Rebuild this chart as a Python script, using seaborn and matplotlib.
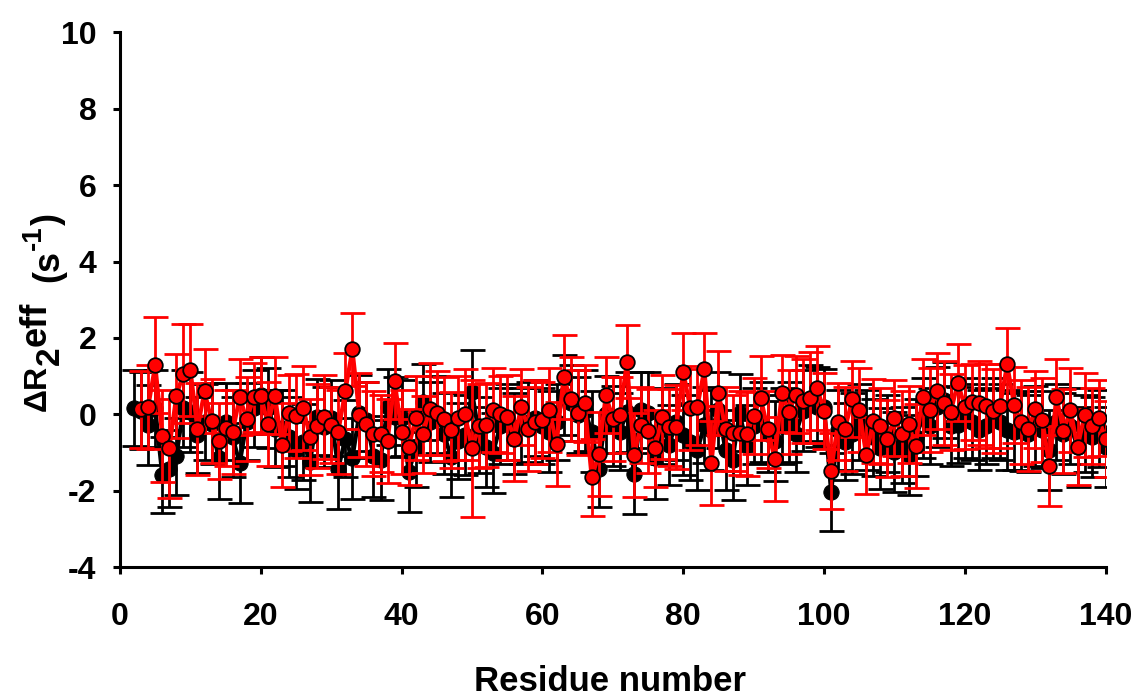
import matplotlib
matplotlib.use("Agg")
import matplotlib.pyplot as plt
import seaborn as sns
import numpy as np
import pandas as pd

# ---------------- data ----------------
residues_black = list(range(2, 141))
residues_red = list(range(3, 141))

black_vals = [
    0.17, 0.10, -0.28, 0.16, -1.59, -1.42, -1.10, 0.16, 0.07, -0.54,
    -0.20, -0.24, -1.15, -0.19, -0.60, -1.28, -0.19, 0.16, 0.50, 0.16,
    -0.37, -0.35, -0.60, -0.94, -0.72, -1.24, -0.06, -0.32, -0.10, -1.42,
    -0.63, -1.15, 0.03, -0.15, -1.10, -1.20, 0.20, -0.06, -0.10, -1.50,
    -0.89, 0.33, -0.19, 0.00, -0.50, -1.11, -0.70, -0.54, 0.59, -0.54,
    -0.85, -1.00, -0.30, -0.20, -0.50, -0.30, -0.20, -0.10, -0.30, -0.45,
    -0.20, 0.51, 0.30, -0.02, 0.10, -0.45, -1.42, 0.00, -0.30, -0.45,
    0.06, -1.55, 0.11, 0.05, -1.15, -0.30, -0.80, -0.20, -0.54, -0.71,
    -0.94, -0.28, -0.40, 0.11, -0.94, -1.20, 0.05, -0.80, -0.30, -0.20,
    -0.50, -0.70, -0.30, -0.20, -0.50, 0.10, 0.30, 0.20, 0.20, -2.03,
    -0.40, -0.71, -0.50, -0.20, -0.40, -0.60, -0.89, -0.50, -0.98, -0.80,
    -1.07, -0.60, -0.10, -0.30, 0.20, 0.38, -0.30, -0.28, -0.10, -0.20,
    -0.40, -0.30, -0.10, -0.20, -0.40, -0.45, -0.43, -0.50, -0.30, -0.40,
    -0.94, -0.20, -0.50, -0.30, -0.85, -0.50, -0.60, -0.37, -0.85,
]
black_err = [
    1.00, 1.00, 1.05, 1.00, 1.00, 1.00, 1.00, 1.00, 1.05, 1.00,
    1.00, 1.05, 1.05, 1.00, 1.05, 1.05, 1.00, 1.00, 1.00, 1.05,
    1.00, 1.00, 1.05, 1.00, 1.00, 1.05, 1.00, 1.05, 1.00, 1.05,
    1.00, 1.05, 1.00, 1.00, 1.05, 1.05, 1.00, 1.05, 1.00, 1.05,
    1.00, 1.00, 1.05, 1.00, 1.05, 1.05, 1.00, 1.05, 1.10, 1.00,
    1.05, 1.05, 1.00, 1.00, 1.05, 1.00, 1.05, 1.00, 1.00, 1.05,
    1.00, 1.05, 1.00, 1.00, 1.05, 1.05, 1.00, 1.00, 1.05, 1.00,
    1.05, 1.05, 1.00, 1.05, 1.05, 1.00, 1.05, 1.00, 1.05, 1.00,
    1.05, 1.00, 1.05, 1.00, 1.05, 1.05, 1.00, 1.05, 1.00, 1.05,
    1.00, 1.05, 1.00, 1.05, 1.00, 1.05, 1.00, 1.05, 1.00, 1.02,
    1.05, 1.00, 1.05, 1.00, 1.05, 1.00, 1.05, 1.00, 1.05, 1.00,
    1.05, 1.00, 1.05, 1.00, 1.05, 1.00, 1.05, 1.00, 1.05, 1.00,
    1.05, 1.00, 1.05, 1.00, 1.05, 1.00, 1.05, 1.00, 1.05, 1.00,
    1.05, 1.00, 1.05, 1.00, 1.05, 1.00, 1.05, 1.00, 1.05,
]

red_vals = [
    0.13, 0.20, 1.29, -0.56, -0.89, 0.49, 1.07, 1.16, -0.38, 0.61,
    -0.17, -0.69, -0.35, -0.45, 0.45, -0.13, 0.45, 0.49, -0.25, 0.49,
    -0.80, 0.03, -0.04, 0.18, -0.59, -0.31, -0.06, -0.28, -0.45, 0.61,
    1.70, -0.02, -0.24, -0.50, -0.50, -0.69, 0.87, -0.45, -0.85, -0.10,
    -0.52, 0.14, 0.04, -0.12, -0.41, -0.10, 0.00, -0.89, -0.30, -0.28,
    0.11, 0.00, -0.08, -0.63, 0.20, -0.37, -0.19, -0.15, 0.11, -0.78,
    0.97, 0.40, 0.05, 0.29, -1.65, -1.04, 0.51, -0.12, -0.02, 1.38,
    -1.07, -0.28, -0.44, -0.89, -0.06, -0.34, -0.34, 1.12, 0.16, 0.20,
    1.18, -1.28, 0.57, -0.38, -0.48, -0.48, -0.52, -0.04, 0.44, -0.39,
    -1.17, 0.55, 0.07, 0.52, 0.35, 0.44, 0.70, 0.09, -1.48, -0.19,
    -0.37, 0.40, 0.11, -1.07, -0.17, -0.30, -0.63, -0.10, -0.50, -0.26,
    -0.83, 0.46, 0.11, 0.61, 0.30, 0.07, 0.83, 0.20, 0.33, 0.29,
    0.23, 0.09, 0.22, 1.31, 0.24, -0.20, -0.38, 0.13, -0.15, -1.35,
    0.46, -0.43, 0.11, -0.85, -0.02, -0.30, -0.10, -0.65,
]
red_err = [
    1.00, 1.10, 1.25, 1.20, 1.30, 1.10, 1.30, 1.20, 1.20, 1.10,
    1.10, 1.00, 1.00, 1.10, 1.00, 1.10, 0.90, 1.00, 1.10, 1.00,
    1.10, 1.00, 1.10, 1.10, 1.00, 1.10, 1.10, 1.00, 1.10, 1.00,
    0.95, 1.10, 1.10, 1.10, 1.00, 1.10, 1.00, 1.10, 1.00, 1.10,
    1.00, 1.20, 1.10, 1.10, 1.00, 1.10, 1.20, 1.80, 1.10, 1.10,
    1.10, 1.00, 1.10, 1.10, 1.00, 1.10, 1.10, 1.00, 1.10, 1.10,
    1.10, 1.10, 1.10, 1.00, 1.00, 1.10, 1.00, 1.10, 1.00, 0.95,
    1.10, 1.00, 1.10, 1.00, 1.10, 1.00, 1.10, 1.00, 1.10, 1.00,
    0.95, 1.10, 1.10, 1.10, 1.00, 1.10, 1.10, 1.00, 1.10, 1.00,
    1.10, 1.00, 1.10, 1.00, 1.10, 1.20, 1.10, 1.00, 1.00, 1.00,
    1.10, 1.00, 1.10, 1.00, 1.10, 1.00, 1.00, 1.00, 1.10, 1.00,
    1.10, 1.00, 1.10, 1.00, 1.10, 1.00, 1.00, 1.10, 1.00, 1.10,
    1.10, 1.10, 1.10, 0.95, 1.00, 1.10, 1.10, 1.00, 1.10, 1.05,
    1.00, 1.10, 1.10, 1.00, 1.10, 1.00, 1.00, 1.00,
]

x_ticks = [0, 20, 40, 60, 80, 100, 120, 140]
y_ticks = [-4, -2, 0, 2, 4, 6, 8, 10]
x_label = "Residue number"
# y label pieces (text, font size)
y_label_parts = [("\u0394R", 23), ("2", 24), ("eff", 26), ("(s", 26), ("-1", 20), (")", 26)]

# ---------------- style ----------------
sns.set_theme(style="white")
plt.rcParams["font.family"] = ["Liberation Sans", "DejaVu Sans"]
plt.rcParams["font.weight"] = "bold"

df_black = pd.DataFrame({"residue": residues_black, "value": black_vals, "err": black_err})
df_red = pd.DataFrame({"residue": residues_red, "value": red_vals, "err": red_err})

W, H = 1142, 697
fig = plt.figure(figsize=(W / 100, H / 100), dpi=100)
ax = fig.add_axes([0.1051, 0.1861, 0.8631, 0.7676])

# black series
ax.errorbar(df_black["residue"], df_black["value"], yerr=df_black["err"],
            fmt="none", ecolor="black", elinewidth=2, capsize=9, capthick=2, zorder=1)
sns.lineplot(data=df_black, x="residue", y="value", ax=ax, color="black",
             lw=3, marker="o", markersize=11, markerfacecolor="black",
             markeredgecolor="black", zorder=2)

# red series
ax.errorbar(df_red["residue"], df_red["value"], yerr=df_red["err"],
            fmt="none", ecolor="#ff0000", elinewidth=2, capsize=9, capthick=2, zorder=3)
sns.lineplot(data=df_red, x="residue", y="value", ax=ax, color="#ff0000",
             lw=3, marker="o", markersize=10.5, markerfacecolor="#ff0000",
             markeredgecolor="black", markeredgewidth=1.3, zorder=4)

ax.set_xlim(0, 140)
ax.set_ylim(-4, 10)
ax.set_xticks(x_ticks)
ax.set_yticks(y_ticks)
ax.set_xticklabels([str(t) for t in x_ticks], fontsize=23, fontweight="bold")
ax.set_yticklabels([str(t) for t in y_ticks], fontsize=23, fontweight="bold")

for s in ["top", "right"]:
    ax.spines[s].set_visible(False)
for s in ["left", "bottom"]:
    ax.spines[s].set_linewidth(2.2)
    ax.spines[s].set_color("black")
    ax.spines[s].set_clip_on(False)

ax.tick_params(axis="x", direction="out", length=5, width=2.2, pad=20, colors="black", bottom=True)
ax.tick_params(axis="y", direction="out", length=5, width=2.2, pad=12, colors="black", left=True)

ax.set_xlabel(x_label, fontsize=25, fontweight="bold", color="black")
ax.xaxis.set_label_coords(0.497, -0.182)
ax.set_ylabel("")
ax.grid(False)
if ax.get_legend() is not None:
    ax.get_legend().remove()

# rotated y label built from pieces, chained along the text direction
baselines = [46, 59, 46, 58, 41, 58]
gaps = [0, 0, 0, 20, 0, 0]
fig.canvas.draw()
renderer = fig.canvas.get_renderer()
y_cur = 411.0
for (txt, size), xb, gap in zip(y_label_parts, baselines, gaps):
    y_cur -= gap
    t = fig.text(xb / W, 1 - y_cur / H, txt, rotation=90, rotation_mode="anchor",
                 ha="left", va="baseline", fontsize=size, fontweight="bold", color="black")
    bb = t.get_window_extent(renderer=renderer)
    y_cur -= bb.height

fig.savefig("out.png", dpi=100)
